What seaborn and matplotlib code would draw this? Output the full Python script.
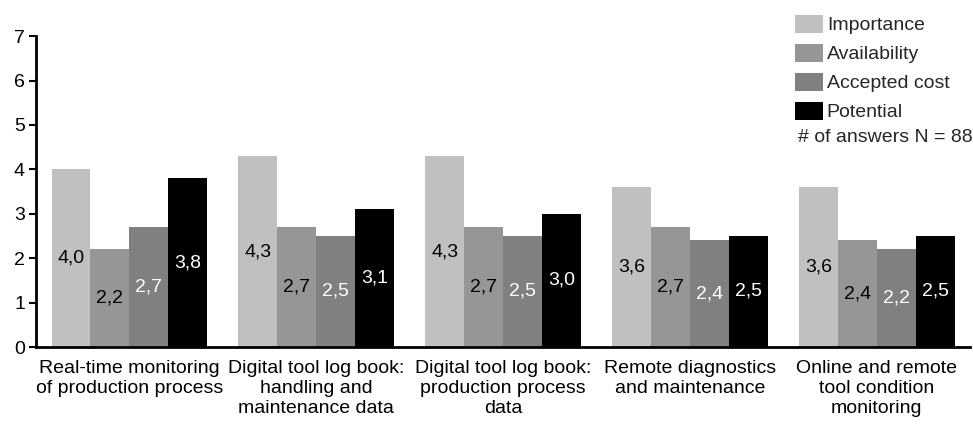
import matplotlib
matplotlib.use("Agg")
import matplotlib.pyplot as plt
from matplotlib.patches import Patch
import seaborn as sns
import pandas as pd

categories = [
    "Real-time monitoring\nof production process",
    "Digital tool log book:\nhandling and\nmaintenance data",
    "Digital tool log book:\nproduction process\ndata",
    "Remote diagnostics\nand maintenance",
    "Online and remote\ntool condition\nmonitoring",
]
series = ["Importance", "Availability", "Accepted cost", "Potential"]
importance = [4.0, 4.3, 4.3, 3.6, 3.6]
availability = [2.2, 2.7, 2.7, 2.7, 2.4]
accepted_cost = [2.7, 2.5, 2.5, 2.4, 2.2]
potential = [3.8, 3.1, 3.0, 2.5, 2.5]
y_ticks = [0, 1, 2, 3, 4, 5, 6, 7]
note = "# of answers N = 88"

colors = ["#c0c0c0", "#969696", "#808080", "#000000"]
label_colors = ["black", "black", "white", "white"]

sns.set_style("white")
plt.rcParams["font.family"] = ["Liberation Sans", "DejaVu Sans"]
plt.rcParams["font.size"] = 14

values = [importance, availability, accepted_cost, potential]
df = pd.DataFrame(
    [(c, s, v) for s, vals in zip(series, values) for c, v in zip(categories, vals)],
    columns=["category", "series", "value"],
)

fig = plt.figure(figsize=(9.73, 4.30), dpi=100)
ax = fig.add_axes([0.037, 0.193, 0.96, 0.723])

sns.barplot(
    data=df, x="category", y="value", hue="series",
    order=categories, hue_order=series, palette=colors,
    width=0.834, gap=0, saturation=1, errorbar=None,
    linewidth=0, legend=False, ax=ax,
)

for cont, vals, lc in zip(ax.containers, values, label_colors):
    ax.bar_label(cont, labels=[f"{v:.1f}".replace(".", ",") for v in vals],
                 label_type="center", color=lc, fontsize=14)

ax.set_xlim(-0.5, 4.5)
ax.set_ylim(0, 7)
ax.set_yticks(y_ticks)
ax.set_xlabel("")
ax.set_ylabel("")
for side in ["top", "right"]:
    ax.spines[side].set_visible(False)
for side in ["left", "bottom"]:
    ax.spines[side].set_linewidth(2)
    ax.spines[side].set_color("black")
ax.tick_params(axis="y", which="major", left=True, length=5, width=1.5,
               labelsize=14, pad=3, colors="black")
ax.tick_params(axis="x", bottom=False, labelsize=14, pad=6, colors="black")
for lbl in ax.get_xticklabels():
    lbl.set_linespacing(1.22)

handles = [Patch(facecolor=c, edgecolor="none") for c in colors]
fig.legend(handles, series, loc="upper left", bbox_to_anchor=(0.817, 0.966),
           frameon=False, fontsize=14, handlelength=1.44, handleheight=1.08,
           labelspacing=0.47, handletextpad=0.2, borderaxespad=0, borderpad=0)
fig.text(0.820, 0.680, note, fontsize=14, va="center", ha="left")

fig.savefig("out.png", dpi=100)
